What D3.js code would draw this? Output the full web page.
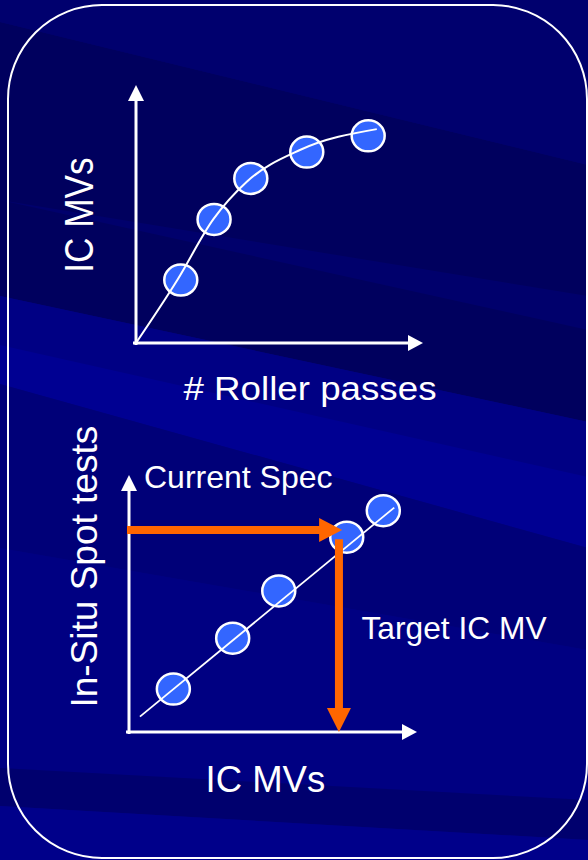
<!DOCTYPE html>
<html>
<head>
<meta charset="utf-8">
<script src="https://cdn.jsdelivr.net/npm/d3@7"></script>
<style>
    html, body { margin: 0; padding: 0; background: #000082; overflow: hidden; }
    svg { display: block; }
</style>
</head>
<body>
<div id="chart"></div>
<script>
// top chart: IC MV against number of roller passes
const rollerPasses = [1.56, 2.72, 4.0, 5.95, 8.09];
const rollerMVs = [2.44, 4.79, 6.38, 7.40, 8.03];
const trendPasses = [0, 1.44, 2.69, 3.86, 5.71, 8.39];
const trendMVs = [0, 2.44, 4.79, 6.25, 7.48, 8.29];

// bottom chart: in-situ spot tests against IC MV
const calibMVs = [1.54, 3.60, 5.20, 7.56, 8.83];
const calibSpot = [1.67, 3.65, 5.49, 7.58, 8.61];
const fitMVs = [0.38, 9.21];
const fitSpot = [0.60, 8.73];
const currentSpec = 7.86;
const specArrowEnd = 7.4;
const targetMV = 7.29;
const targetStart = 7.5;

const labels = {
    topY: "IC MVs",
    topX: "# Roller passes",
    bottomY: "In-Situ Spot tests",
    bottomX: "IC MVs",
    spec: "Current Spec",
    target: "Target IC MV"
};

const W = 588, H = 860;
const FONT = "'Liberation Sans', Arial, sans-serif";

class SlideVis {
    constructor(parentElement) {
        this.parentElement = parentElement;
        this.initVis();
    }

    initVis() {
        let vis = this;

        vis.svg = d3.select("#" + vis.parentElement).append("svg")
            .attr("width", W)
            .attr("height", H);

        vis.drawBackground();

        // rounded frame
        vis.svg.append("rect")
            .attr("x", 8).attr("y", 5)
            .attr("width", 579).attr("height", 853)
            .attr("rx", 94).attr("ry", 94)
            .attr("fill", "none")
            .attr("stroke", "white")
            .attr("stroke-width", 2);

        vis.drawTopChart();
        vis.drawBottomChart();
    }

    drawBackground() {
        let vis = this;
        vis.svg.append("rect")
            .attr("width", W).attr("height", H)
            .attr("fill", "rgb(0,0,128)");

        // diagonal bands of the slide template: [left top, left bottom, right top, right bottom, colour]
        const bands = [
            [0, 22, 0, 165, "rgb(0,0,110)"],
            [22, 296, 165, 422, "rgb(0,0,94)"],
            [200, 200, 296, 330, "rgb(0,0,108)"],
            [296, 384, 422, 548, "rgb(0,0,132)"],
            [345, 384, 477, 548, "rgb(0,0,146)"],
            [384, 548, 548, 650, "rgb(0,0,120)"],
            [548, 768, 650, 800, "rgb(0,0,130)"],
            [768, 806, 800, 840, "rgb(0,0,110)"],
            [806, 860, 840, 860, "rgb(0,0,138)"]
        ];
        vis.svg.append("g").selectAll("path")
            .data(bands)
            .enter().append("path")
            .attr("d", d => `M0,${d[0]}L${W},${d[2]}L${W},${d[3]}L0,${d[1]}Z`)
            .attr("fill", d => d[4]);
    }

    drawAxes(g, x, y) {
        let x0 = x.range()[0], x1 = x.range()[1];
        let y0 = y.range()[0], y1 = y.range()[1];

        g.append("line")
            .attr("x1", x0 - 3).attr("y1", y0)
            .attr("x2", x1 - 12).attr("y2", y0)
            .attr("stroke", "white").attr("stroke-width", 3);
        g.append("line")
            .attr("x1", x0).attr("y1", y0 + 2)
            .attr("x2", x0).attr("y2", y1 + 12)
            .attr("stroke", "white").attr("stroke-width", 3);

        g.append("path")
            .attr("d", `M${x1},${y0}L${x1 - 15},${y0 - 8}L${x1 - 15},${y0 + 8}Z`)
            .attr("fill", "white");
        g.append("path")
            .attr("d", `M${x0},${y1}L${x0 - 8},${y1 + 16}L${x0 + 8},${y1 + 16}Z`)
            .attr("fill", "white");
    }

    drawPoints(g, x, y, xs, ys) {
        g.selectAll(".pt")
            .data(xs.map((d, i) => ({ x: d, y: ys[i] })))
            .enter().append("ellipse")
            .attr("class", "pt")
            .attr("cx", d => x(d.x))
            .attr("cy", d => y(d.y))
            .attr("rx", 16.5)
            .attr("ry", 15.5)
            .attr("fill", "rgb(51,102,255)")
            .attr("stroke", "white")
            .attr("stroke-width", 2.5);
    }

    drawTopChart() {
        let vis = this;
        let g = vis.svg.append("g");

        let x = d3.scaleLinear().domain([0, 10]).range([136, 423]);
        let y = d3.scaleLinear().domain([0, 10]).range([343, 85]);

        vis.drawAxes(g, x, y);
        vis.drawPoints(g, x, y, rollerPasses, rollerMVs);

        let line = d3.line()
            .x(d => x(d.x))
            .y(d => y(d.y))
            .curve(d3.curveMonotoneX);

        g.append("path")
            .datum(trendPasses.map((d, i) => ({ x: d, y: trendMVs[i] })))
            .attr("d", line)
            .attr("fill", "none")
            .attr("stroke", "white")
            .attr("stroke-width", 2);

        g.append("text")
            .attr("transform", "translate(92.7,215) rotate(-90) scale(0.88,1)")
            .attr("text-anchor", "middle")
            .style("font-family", FONT)
            .style("font-size", "40px")
            .attr("fill", "white")
            .text(labels.topY);

        // the slide text is a little wider than Liberation Sans
        g.append("text")
            .attr("transform", "translate(183.5,400) scale(1.08,1)")
            .style("font-family", FONT)
            .style("font-size", "34px")
            .attr("fill", "white")
            .text(labels.topX);
    }

    drawBottomChart() {
        let vis = this;
        let g = vis.svg.append("g");

        let x = d3.scaleLinear().domain([0, 10]).range([129, 417]);
        let y = d3.scaleLinear().domain([0, 10]).range([732, 475]);

        vis.drawAxes(g, x, y);
        vis.drawPoints(g, x, y, calibMVs, calibSpot);

        g.append("line")
            .attr("x1", x(fitMVs[0])).attr("y1", y(fitSpot[0]))
            .attr("x2", x(fitMVs[1])).attr("y2", y(fitSpot[1]))
            .attr("stroke", "white")
            .attr("stroke-width", 1.8);

        // orange arrows: spec across to the line, then down to the target MV
        const orange = "rgb(255,102,0)";
        let sy = y(currentSpec), sx = x(specArrowEnd);
        g.append("line")
            .attr("x1", x(0) - 2).attr("y1", sy)
            .attr("x2", sx - 20).attr("y2", sy)
            .attr("stroke", orange).attr("stroke-width", 8);
        g.append("path")
            .attr("d", `M${sx},${sy}L${sx - 23},${sy - 12}L${sx - 23},${sy + 12}Z`)
            .attr("fill", orange);

        let tx = x(targetMV), ty = y(0);
        g.append("line")
            .attr("x1", tx).attr("y1", y(targetStart))
            .attr("x2", tx).attr("y2", ty - 20)
            .attr("stroke", orange).attr("stroke-width", 8);
        g.append("path")
            .attr("d", `M${tx},${ty}L${tx - 12},${ty - 24}L${tx + 12},${ty - 24}Z`)
            .attr("fill", orange);

        g.append("text")
            .attr("x", 144).attr("y", 487.5)
            .style("font-family", FONT)
            .style("font-size", "32px")
            .attr("fill", "white")
            .text(labels.spec);

        g.append("text")
            .attr("transform", "translate(361.5,638.5) scale(1.04,1)")
            .style("font-family", FONT)
            .style("font-size", "30.5px")
            .attr("fill", "white")
            .text(labels.target);

        g.append("text")
            .attr("transform", "translate(96.7,566.7) rotate(-90)")
            .attr("text-anchor", "middle")
            .style("font-family", FONT)
            .style("font-size", "37px")
            .attr("fill", "white")
            .text(labels.bottomY);

        g.append("text")
            .attr("x", 205.5).attr("y", 792)
            .style("font-family", FONT)
            .style("font-size", "36.5px")
            .attr("fill", "white")
            .text(labels.bottomX);
    }
}

new SlideVis("chart");
</script>
</body>
</html>
